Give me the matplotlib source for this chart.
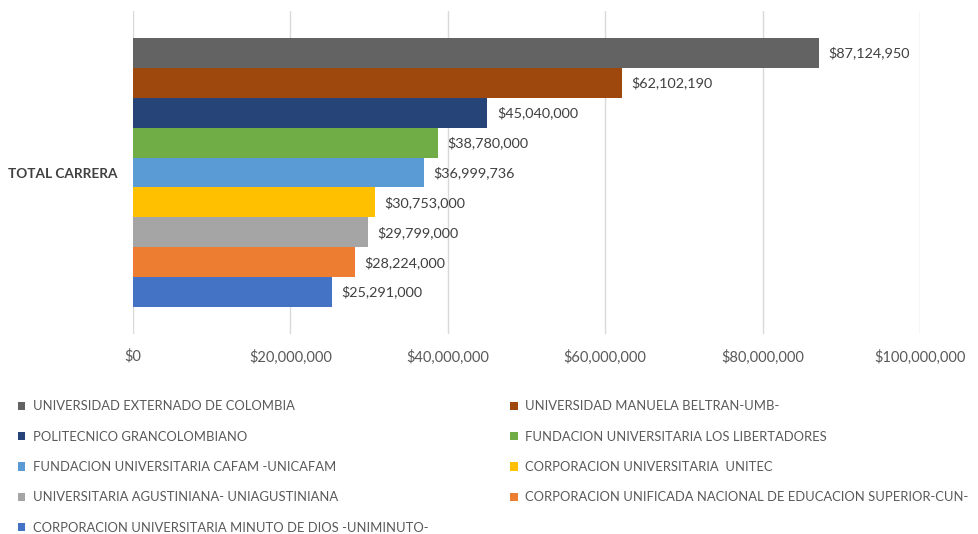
#!/usr/bin/env python3

from matplotlib import pyplot as plt
from matplotlib.patches import Patch
from matplotlib.ticker import FuncFormatter

plt.rcParams['font.family'] = ['Lato', 'DejaVu Sans']

# data
universidades = [
    'UNIVERSIDAD EXTERNADO DE COLOMBIA',
    'UNIVERSIDAD MANUELA BELTRAN-UMB-',
    'POLITECNICO GRANCOLOMBIANO',
    'FUNDACION UNIVERSITARIA LOS LIBERTADORES',
    'FUNDACION UNIVERSITARIA CAFAM -UNICAFAM',
    'CORPORACION UNIVERSITARIA  UNITEC',
    'UNIVERSITARIA AGUSTINIANA- UNIAGUSTINIANA',
    'CORPORACION UNIFICADA NACIONAL DE EDUCACION SUPERIOR-CUN-',
    'CORPORACION UNIVERSITARIA MINUTO DE DIOS -UNIMINUTO-',
]
valores = [87124950, 62102190, 45040000, 38780000, 36999736,
           30753000, 29799000, 28224000, 25291000]
colores = ['#636363', '#9E480E', '#264478', '#70AD47', '#5B9BD5',
           '#FFC000', '#A5A5A5', '#ED7D31', '#4472C4']
categoria = 'TOTAL CARRERA'

texto = '#595959'

fig = plt.figure(figsize=(9.79, 5.34), dpi=100)
ax = fig.add_axes([0.1359, 0.3745, 0.9397 - 0.1359, 0.9794 - 0.3745])

pos = list(range(len(valores)))
barras = ax.barh(pos, valores, height=1.0, color=colores)
for y, v in zip(pos, valores):
    ax.text(v + 1.2e6, y, '${:,.0f}'.format(v), va='center', ha='left',
            fontsize=10.4, color='#404040')

ax.set_xlim(0, 100e6)
ax.set_ylim(8.5 + 0.9, -0.5 - 0.9)
ax.set_xticks([0, 20e6, 40e6, 60e6, 80e6, 100e6])
ax.xaxis.set_major_formatter(FuncFormatter(lambda x, p: '${:,.0f}'.format(x)))
ax.tick_params(axis='x', length=0, pad=11, labelsize=10.5, labelcolor=texto)
ax.set_yticks([4])
ax.set_yticklabels([categoria], fontweight='bold', fontsize=9.8, color='#404040')
ax.tick_params(axis='y', length=0, pad=11)
ax.grid(axis='x', color='#d9d9d9', linewidth=1)
ax.set_axisbelow(True)
for s in ax.spines.values():
    s.set_visible(False)

# legend in row-major order like Excel
handles = [Patch(facecolor=c) for c in colores]
orden = [0, 2, 4, 6, 8, 1, 3, 5, 7]
fig.legend([handles[i] for i in orden], [universidades[i] for i in orden],
           ncol=2, loc='upper left', bbox_to_anchor=(0.018, 0.25),
           frameon=False, fontsize=9.4, labelcolor=texto,
           handlelength=0.6, handleheight=0.6, handletextpad=0.55,
           labelspacing=1.4, columnspacing=6.25, borderaxespad=0, borderpad=0)

fig.savefig('out.png')
